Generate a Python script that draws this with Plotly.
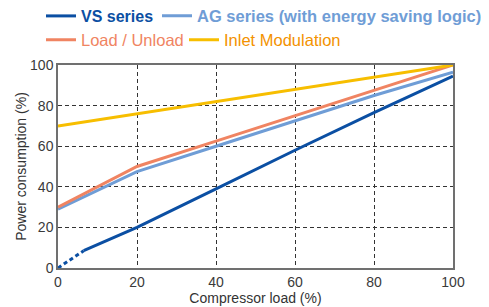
import plotly.graph_objects as go

load_vs_dotted = [0, 6.5]
vs_dotted = [0, 8.5]
load_vs = [6.5, 20, 40, 60, 80, 100]
vs_series = [8.5, 20, 39, 58, 76.5, 94.5]

load = [0, 20, 40, 60, 80, 100]
ag_series = [29, 47.5, 60, 72.5, 85, 96.5]
load_unload = [30, 50, 62.5, 75, 87.5, 100]
inlet_mod = [70, 76, 82, 88, 94, 100]

ticks = [0, 20, 40, 60, 80, 100]

C_VS = "#0b4fa3"
C_AG = "#6f9dd6"
C_LU = "#f08462"
C_IM = "#f7be00"
C_IM_TXT = "#f39200"

fig = go.Figure()
fig.add_trace(go.Scatter(x=load_vs_dotted, y=vs_dotted, mode="lines",
                         line=dict(color=C_VS, width=3, dash="4px,3px"),
                         showlegend=False, hoverinfo="skip"))
fig.add_trace(go.Scatter(x=load_vs, y=vs_series, mode="lines",
                         line=dict(color=C_VS, width=3),
                         name=f"<b><span style='color:{C_VS}'>VS series</span></b>",
                         legend="legend"))
fig.add_trace(go.Scatter(x=load, y=ag_series, mode="lines",
                         line=dict(color=C_AG, width=3),
                         name=f"<b><span style='color:{C_AG}'>AG series (with energy saving logic)</span></b>",
                         legend="legend2"))
fig.add_trace(go.Scatter(x=load, y=load_unload, mode="lines",
                         line=dict(color=C_LU, width=3),
                         name=f"<span style='color:{C_LU}'>Load / Unload</span>",
                         legend="legend3"))
fig.add_trace(go.Scatter(x=load, y=inlet_mod, mode="lines",
                         line=dict(color=C_IM, width=3),
                         name=f"<span style='color:{C_IM_TXT}'>Inlet Modulation</span>",
                         legend="legend4"))

FONT = "Liberation Sans, Arial"
W, H = 481, 299

axis_common = dict(
    range=[0, 100], tickvals=ticks, showgrid=True, gridcolor="#333333",
    gridwidth=1, griddash="4px,3px", zeroline=False, showline=True,
    mirror=True, linecolor="#707070", linewidth=1.5, ticks="",
    tickfont=dict(family=FONT, size=14, color="#3a3a3a"),
)

fig.update_xaxes(**axis_common, title=dict(text="Compressor load (%)", standoff=4,
                 font=dict(family=FONT, size=14, color="#333333")))
fig.update_yaxes(**axis_common, title=dict(text="Power consumption (%)", standoff=0,
                 font=dict(family=FONT, size=14, color="#333333")))

def leg(x, y, size):
    return dict(orientation="h", xref="container", yref="container",
                xanchor="left", yanchor="middle", bgcolor="rgba(0,0,0,0)",
                font=dict(family=FONT, size=size), itemwidth=30,
                x=x / W, y=1 - y / H)

fig.update_layout(
    width=W, height=H,
    margin=dict(l=50, r=36, t=57, b=39, autoexpand=False),
    paper_bgcolor="white", plot_bgcolor="white",
    showlegend=True,
    legend=leg(33, 8, 16),
    legend2=leg(149, 8, 16.5),
    legend3=leg(33, 32, 16.5),
    legend4=leg(176, 32, 16.5),
)

fig.write_html("out.html")
